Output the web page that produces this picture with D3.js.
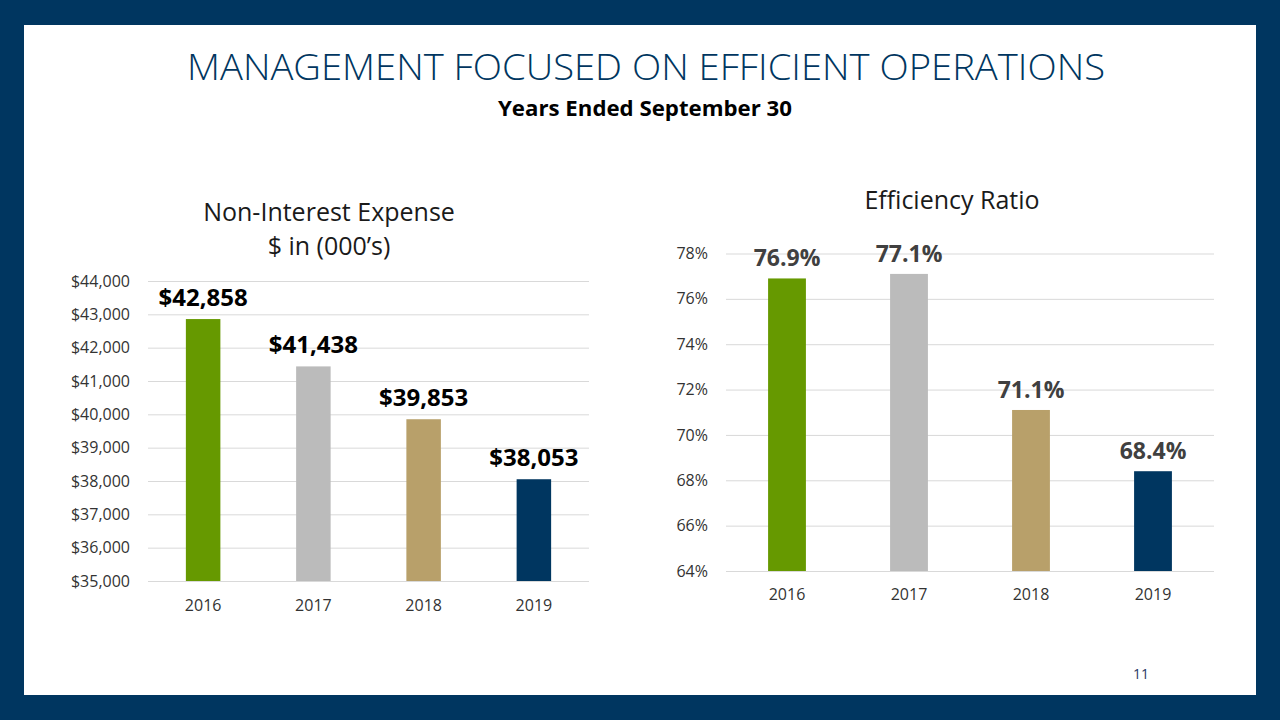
<!DOCTYPE html>
<html><head><meta charset="utf-8">
<script src="https://cdn.jsdelivr.net/npm/d3@7"></script>
<style>html,body{margin:0;padding:0;background:#003660;}svg{display:block;}</style>
</head><body>
<svg id="c" width="1280" height="720"></svg>
<script>
const years = ["2016","2017","2018","2019"];
const expenseValues = [42858, 41438, 39853, 38053];
const expenseLabels = ["$42,858","$41,438","$39,853","$38,053"];
const expenseTicks = [35000,36000,37000,38000,39000,40000,41000,42000,43000,44000];
const ratioValues = [76.9, 77.1, 71.1, 68.4];
const ratioLabels = ["76.9%","77.1%","71.1%","68.4%"];
const ratioTicks = [64,66,68,70,72,74,76,78];
const barColors = ["#669900","#BBBBBB","#B8A06A","#003660"];

const svg = d3.select("#c");
const F = "'Open Sans', sans-serif";
svg.append("rect").attr("width",1280).attr("height",720).attr("fill","#003660");
svg.append("rect").attr("x",24).attr("y",25).attr("width",1232).attr("height",670).attr("fill","#fff");

svg.append("text").attr("x",646).attr("y",80).attr("text-anchor","middle")
  .attr("font-family",F).attr("font-weight",300).attr("font-size",37).attr("fill","#003660")
  .attr("textLength",918).attr("lengthAdjust","spacingAndGlyphs")
  .text("MANAGEMENT FOCUSED ON EFFICIENT OPERATIONS");
svg.append("text").attr("x",645).attr("y",116).attr("text-anchor","middle")
  .attr("font-family",F).attr("font-weight",700).attr("font-size",21).attr("fill","#000")
  .attr("textLength",294).attr("lengthAdjust","spacingAndGlyphs")
  .text("Years Ended September 30");
svg.append("text").attr("x",1141).attr("y",679).attr("text-anchor","middle")
  .attr("font-family",F).attr("font-size",14).attr("fill","#1F3864").text("11");

function chart(opt){
  const g = svg.append("g");
  const x = d3.scaleBand().domain(years).range([opt.x0,opt.x1]).paddingInner(opt.pad).paddingOuter(opt.pad/2);
  const y = d3.scaleLinear().domain(opt.domain).range([opt.yb,opt.yt]);
  const ya = g.append("g").attr("transform",`translate(${opt.x0},0)`)
    .call(d3.axisLeft(y).tickValues(opt.ticks).tickSize(-(opt.x1-opt.x0)).tickPadding(18).tickFormat(opt.fmt));
  ya.select(".domain").remove();
  ya.selectAll(".tick line").attr("stroke","#D9D9D9").attr("stroke-width",1);
  ya.selectAll(".tick text").attr("font-family",F).attr("font-size",16).attr("fill","#333");
  const xa = g.append("g").attr("transform",`translate(0,${opt.yb})`)
    .call(d3.axisBottom(x).tickSize(0).tickPadding(opt.xpad));
  xa.select(".domain").remove();
  xa.selectAll(".tick text").attr("font-family",F).attr("font-size",16).attr("fill","#333");
  g.selectAll("rect.bar").data(opt.values).join("rect").attr("class","bar")
    .attr("x",(d,i)=>x(years[i])).attr("width",x.bandwidth())
    .attr("y",d=>y(d)).attr("height",d=>opt.yb-y(d))
    .attr("fill",(d,i)=>barColors[i]);
  g.selectAll("text.lbl").data(opt.values).join("text").attr("class","lbl")
    .attr("x",(d,i)=>x(years[i])+x.bandwidth()/2).attr("y",(d)=>y(d)-opt.gap)
    .attr("text-anchor","middle").attr("font-family",F).attr("font-weight",700)
    .attr("font-size",opt.lsize).attr("fill",opt.lcolor)
    .text((d,i)=>opt.labels[i]);
  opt.title.forEach((t,i)=>{
    g.append("text").attr("x",opt.tx).attr("y",opt.ty+i*34).attr("text-anchor","middle")
      .attr("font-family",F).attr("font-size",25).attr("fill","#1a1a1a").text(t);
  });
}

chart({x0:148,x1:589,yt:281,yb:581,domain:[35000,44000],ticks:expenseTicks,
  fmt:d=>"$"+d3.format(",")(d),values:expenseValues,labels:expenseLabels,
  pad:0.687,xpad:19,gap:13,lsize:24,lcolor:"#000",
  title:["Non-Interest Expense","$ in (000\u2019s)"],tx:329,ty:221});

chart({x0:726,x1:1214,yt:253.5,yb:571,domain:[64,78],ticks:ratioTicks,
  fmt:d=>d+"%",values:ratioValues,labels:ratioLabels,
  pad:0.69,xpad:18,gap:12,lsize:23,lcolor:"#404040",
  title:["Efficiency Ratio"],tx:952,ty:209});
</script>
</body></html>
